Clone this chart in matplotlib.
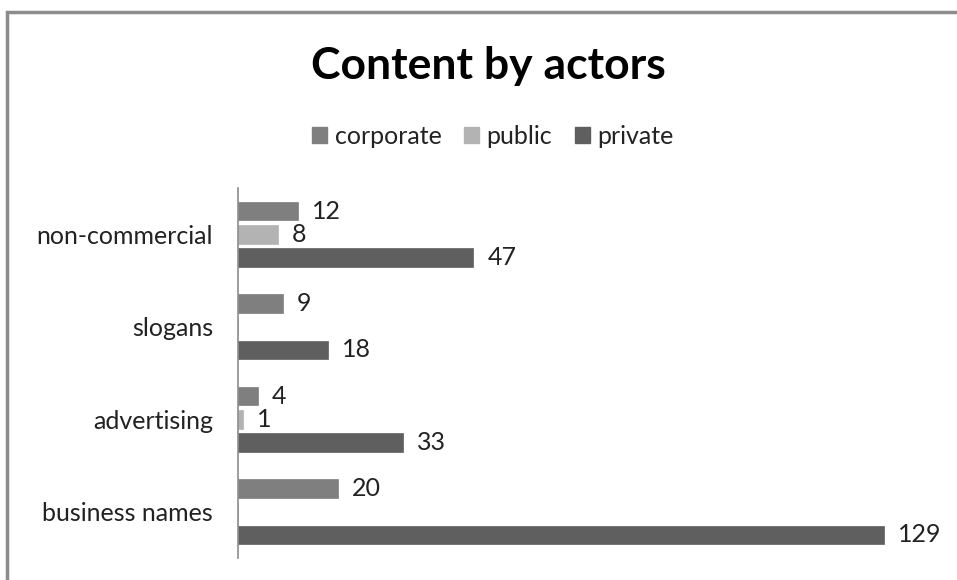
import matplotlib
matplotlib.use("Agg")
import matplotlib.pyplot as plt
from matplotlib.patches import Rectangle

categories = ["business names", "advertising", "slogans", "non-commercial"]
series_names = ["corporate", "public", "private"]
corporate = [20, 4, 9, 12]
public = [0, 1, 0, 8]
private = [129, 33, 18, 47]
colors = ["#7f7f7f", "#b3b3b3", "#5f5f5f"]

plt.rcParams["font.family"] = ["Lato", "DejaVu Sans"]

W, H = 957, 580
fig = plt.figure(figsize=(W / 100, H / 100), dpi=100)
fig.patch.set_facecolor("white")

# outer frame (top and left edges visible)
fig.add_artist(Rectangle((7 / W, -0.1), 1.2, 1 - 12 / H + 0.1, transform=fig.transFigure,
                         fill=False, edgecolor="#8c8c8c", linewidth=2.5))

ax = fig.add_axes([238 / W, 1 - 558 / H, (888 - 238) / W, (558 - 188) / H])

offsets = [0.25, 0.0, -0.25]
bar_h = 0.2
for vals, off, col in zip([corporate, public, private], offsets, colors):
    ys = [i + off for i in range(len(categories))]
    bars = ax.barh(ys, vals, height=bar_h, color=col, edgecolor=col, linewidth=0.5)
    for b, v in zip(bars, vals):
        if v > 0:
            ax.annotate(str(v), (b.get_width(), b.get_y() + b.get_height() / 2),
                        xytext=(10, 0), textcoords="offset points",
                        va="center", ha="left", fontsize=18, color="#222222")

ax.set_xlim(0, 129.8)
ax.set_ylim(-0.5, len(categories) - 0.5)
ax.set_yticks(range(len(categories)))
ax.set_yticklabels(categories, fontsize=18, color="#222222")
ax.tick_params(axis="y", length=0, pad=18)
ax.set_xticks([])
for s in ["top", "right", "bottom"]:
    ax.spines[s].set_visible(False)
ax.spines["left"].set_color("#8c8c8c")
ax.spines["left"].set_linewidth(1.2)

fig.text(488 / W, 1 - 66 / H, "Content by actors", ha="center", va="center",
         fontsize=32, fontweight="bold", color="black")

handles = [Rectangle((0, 0), 1, 1, color=c) for c in colors]
fig.legend(handles, series_names, loc="center", bbox_to_anchor=(493 / W, 1 - 136 / H),
           ncol=3, frameon=False, fontsize=18, handlelength=0.6, handleheight=0.6,
           handletextpad=0.3, columnspacing=0.9, labelcolor="#222222")

fig.savefig("out.png", dpi=100, facecolor="white")
